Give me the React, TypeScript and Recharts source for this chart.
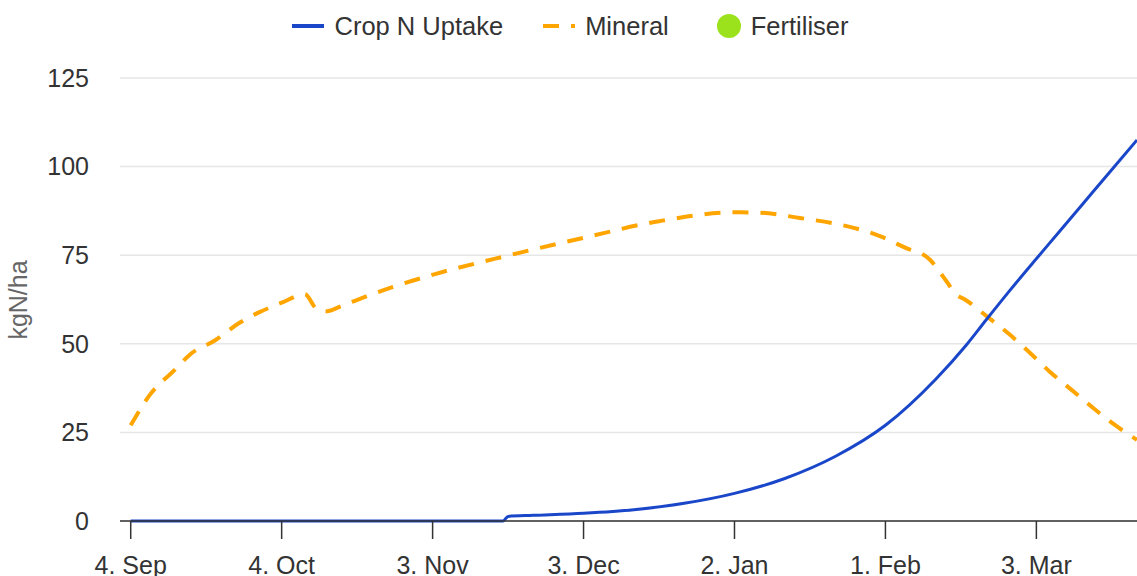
import {
  CartesianGrid,
  ComposedChart,
  Legend,
  Line,
  Scatter,
  XAxis,
  YAxis,
} from "recharts";

// days counted from 4 Sep
const tickDays = [0, 30, 60, 90, 120, 150, 180];
const tickLabels = ["4. Sep", "4. Oct", "3. Nov", "3. Dec", "2. Jan", "1. Feb", "3. Mar"];
const yTicks = [0, 25, 50, 75, 100, 125];

const uptakeDays = [0, 30, 60, 74, 75, 80, 90, 100, 110, 120, 130, 140, 150, 160, 166, 170, 174.7, 180, 184, 189.3, 194.6, 200];
const uptakeValues = [0, 0, 0, 0, 1.3, 1.6, 2.2, 3.2, 5, 7.8, 12, 18.2, 27, 40, 49.5, 56.7, 65, 74, 80.7, 89.6, 98.5, 107.5];

const mineralDays = [0, 3.8, 8.8, 11.8, 16.8, 21.7, 25.7, 30, 34.6, 37, 39, 41.6, 44.3, 52, 60.3, 75.3, 90.3, 105, 120.3, 125, 133, 142.9, 148.9, 153.8, 158.8, 162.1, 164.1, 165.8, 170.1, 174.7, 178.7, 182.6, 187, 191.2, 195.6, 200];
const mineralValues = [27, 35.6, 42.7, 47, 51, 56, 59, 61.6, 64, 59.8, 59.2, 60.5, 62, 66, 69.6, 75, 80, 84.6, 87.1, 87, 85.5, 83, 80.4, 77.2, 73.8, 67.7, 63.9, 62.5, 57.8, 52.6, 47.5, 42.2, 37, 32, 27.1, 22.9];

const fertiliserDays: number[] = [];
const fertiliserValues: number[] = [];

const uptake = uptakeDays.map((d, i) => ({ day: d, value: uptakeValues[i] }));
const mineral = mineralDays.map((d, i) => ({ day: d, value: mineralValues[i] }));
const fertiliser = fertiliserDays.map((d, i) => ({ day: d, value: fertiliserValues[i] }));

const BLUE = "#1a47c9";
const ORANGE = "#ffa500";
const GREEN = "#9be21c";
const FONT = "'Liberation Sans', Arial, sans-serif";
const FS = 25;

function ChartLegend() {
  const text = { fontSize: 25.5, color: "#333", marginLeft: 10 };
  return (
    <div style={{ display: "flex", justifyContent: "center", alignItems: "center", fontFamily: FONT, height: 36, paddingLeft: 4 }}>
      <div style={{ display: "flex", alignItems: "center", marginRight: 40 }}>
        <svg width={32} height={20}><line x1={0} x2={32} y1={10} y2={10} stroke={BLUE} strokeWidth={4} /></svg>
        <span style={text}>Crop N Uptake</span>
      </div>
      <div style={{ display: "flex", alignItems: "center", marginRight: 44 }}>
        <svg width={32} height={20}><line x1={0} x2={32} y1={10} y2={10} stroke={ORANGE} strokeWidth={4} strokeDasharray="16 12" /></svg>
        <span style={text}>Mineral</span>
      </div>
      <div style={{ display: "flex", alignItems: "center" }}>
        <svg width={32} height={26}><circle cx={16} cy={13} r={12} fill={GREEN} /></svg>
        <span style={{ ...text, marginLeft: 6 }}>Fertiliser</span>
      </div>
    </div>
  );
}

export default function App() {
  return (
    <div style={{ width: 1137, height: 576, overflow: "hidden", background: "#fff", fontFamily: FONT }}>
      <style>{"html,body{margin:0;padding:0;overflow:hidden}"}</style>
      <ComposedChart width={1137} height={576} margin={{ top: 78, right: 0, bottom: 0, left: 0 }}>
        <CartesianGrid vertical={false} stroke="#e6e6e6" strokeWidth={1.5} />
        <XAxis
          type="number"
          dataKey="day"
          domain={[-2.13, 200]}
          allowDataOverflow
          ticks={tickDays}
          tickFormatter={(v) => tickLabels[tickDays.indexOf(v)] ?? ""}
          height={55}
          stroke="#333"
          strokeWidth={1.5}
          tickSize={18}
          tickMargin={17}
          tick={{ fontSize: FS, fill: "#333" }}
        />
        <YAxis
          type="number"
          domain={[0, 125]}
          ticks={yTicks}
          width={120}
          axisLine={false}
          tickLine={false}
          tickSize={0}
          tickMargin={31}
          tick={{ fontSize: FS, fill: "#333" }}
          label={{
            content: () => (
              <text x={18} y={300} transform="rotate(-90 18 300)" textAnchor="middle" dominantBaseline="central" fontSize={FS} fill="#666">
                kgN/ha
              </text>
            ),
          }}
        />
        <Legend verticalAlign="middle" align="center" wrapperStyle={{ top: 8, left: 0, width: 1137 }} content={() => <ChartLegend />} />
        <Line data={mineral} dataKey="value" name="Mineral" type="monotone" stroke={ORANGE} strokeWidth={4} strokeDasharray="16 12" dot={false} isAnimationActive={false} />
        <Line data={uptake} dataKey="value" name="Crop N Uptake" type="monotone" stroke={BLUE} strokeWidth={3} dot={false} isAnimationActive={false} />
        <Scatter data={fertiliser} dataKey="value" name="Fertiliser" fill={GREEN} isAnimationActive={false} />
      </ComposedChart>
    </div>
  );
}
